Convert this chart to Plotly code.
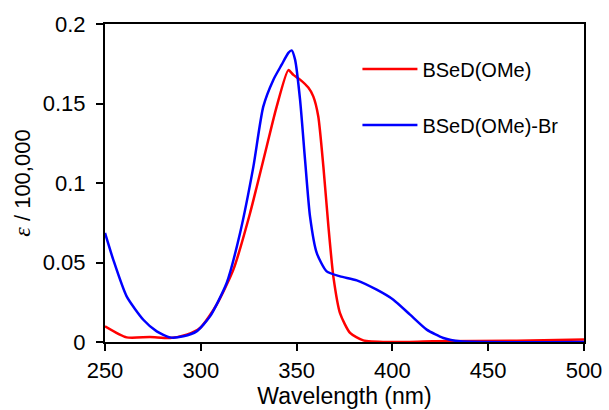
import plotly.graph_objects as go

wl_red = [250, 261.3, 273.5, 284, 292.6, 299.6, 308.3, 317, 325.7, 334.4, 339.6, 345.7, 348.3,
          351.8, 356.1, 358.7, 361.3, 364, 366.6, 369.2, 372.7, 377.9, 384.8, 398.7, 421, 464.9, 500]
eps_red = [0.0099, 0.0029, 0.0031, 0.0025, 0.0046, 0.0088, 0.0235, 0.0455, 0.081, 0.123, 0.148, 0.171, 0.168,
           0.165, 0.160, 0.1545, 0.142, 0.110, 0.0727, 0.041, 0.018, 0.0057, 0.001, 0.0, 0.0004, 0.0008, 0.0015]

wl_blue = [250, 254.3, 261.3, 270, 277, 284, 290.9, 297.8, 304.8, 313.5, 320.5, 327.4, 332.6, 337.9,
           342.2, 345.7, 347.4, 349.2, 351.8, 354.4, 357, 360.5, 365.7, 372.7, 381.4, 391.8, 400.5,
           409.2, 417.9, 426.6, 435.3, 500]
eps_blue = [0.0686, 0.0518, 0.0287, 0.014, 0.0067, 0.0029, 0.0036, 0.0067, 0.0161, 0.0371, 0.0686, 0.110,
            0.148, 0.165, 0.1744, 0.1818, 0.1834, 0.1776, 0.1524, 0.1147, 0.079, 0.056, 0.0444, 0.0413,
            0.0388, 0.0329, 0.0266, 0.0172, 0.0078, 0.0025, 0.0004, 0.0]

FONT = "Liberation Sans, Arial, sans-serif"

fig = go.Figure()
fig.add_trace(go.Scatter(x=wl_red, y=eps_red, mode="lines", name="BSeD(OMe)",
                         line=dict(color="#FF0000", width=2.5, shape="spline", smoothing=0.6),
                         legendgroup="a"))
fig.add_trace(go.Scatter(x=wl_blue, y=eps_blue, mode="lines", name="BSeD(OMe)-Br",
                         line=dict(color="#0000FF", width=2.5, shape="spline", smoothing=0.6),
                         legendgroup="b"))

fig.update_layout(
    width=609, height=410,
    margin=dict(l=105, r=25, t=24, b=68),
    paper_bgcolor="white", plot_bgcolor="white",
    font=dict(family=FONT, size=22, color="black"),
    showlegend=True,
    legend=dict(x=0.527, y=0.92, xanchor="left", yanchor="top",
                bgcolor="rgba(0,0,0,0)", font=dict(size=20, family=FONT),
                tracegroupgap=27, itemwidth=55, traceorder="grouped"),
    xaxis=dict(range=[250, 500], tickvals=[250, 300, 350, 400, 450, 500],
               automargin=False,
               showgrid=False, zeroline=False, showline=True, linecolor="black", linewidth=2,
               mirror=True, ticks="outside", ticklen=7, tickwidth=2, tickcolor="black",
               ticklabelstandoff=1,
               title=dict(text="Wavelength (nm)", standoff=2, font=dict(size=23)),
               tickfont=dict(size=22)),
    yaxis=dict(range=[0, 0.2], tickvals=[0, 0.05, 0.1, 0.15, 0.2],
               ticktext=["0", "0.05", "0.1", "0.15", "0.2"],
               automargin=False,
               showgrid=False, zeroline=False, showline=True, linecolor="black", linewidth=2,
               mirror=True, ticks="outside", ticklen=7, tickwidth=2, tickcolor="black",
               ticklabelstandoff=6,
               title=dict(text="<span style='font-family:Liberation Serif;font-size:24px'><i>ε</i></span> / 100,000",
                          standoff=6, font=dict(size=22)),
               tickfont=dict(size=22)),
)

fig.write_html("out.html")
